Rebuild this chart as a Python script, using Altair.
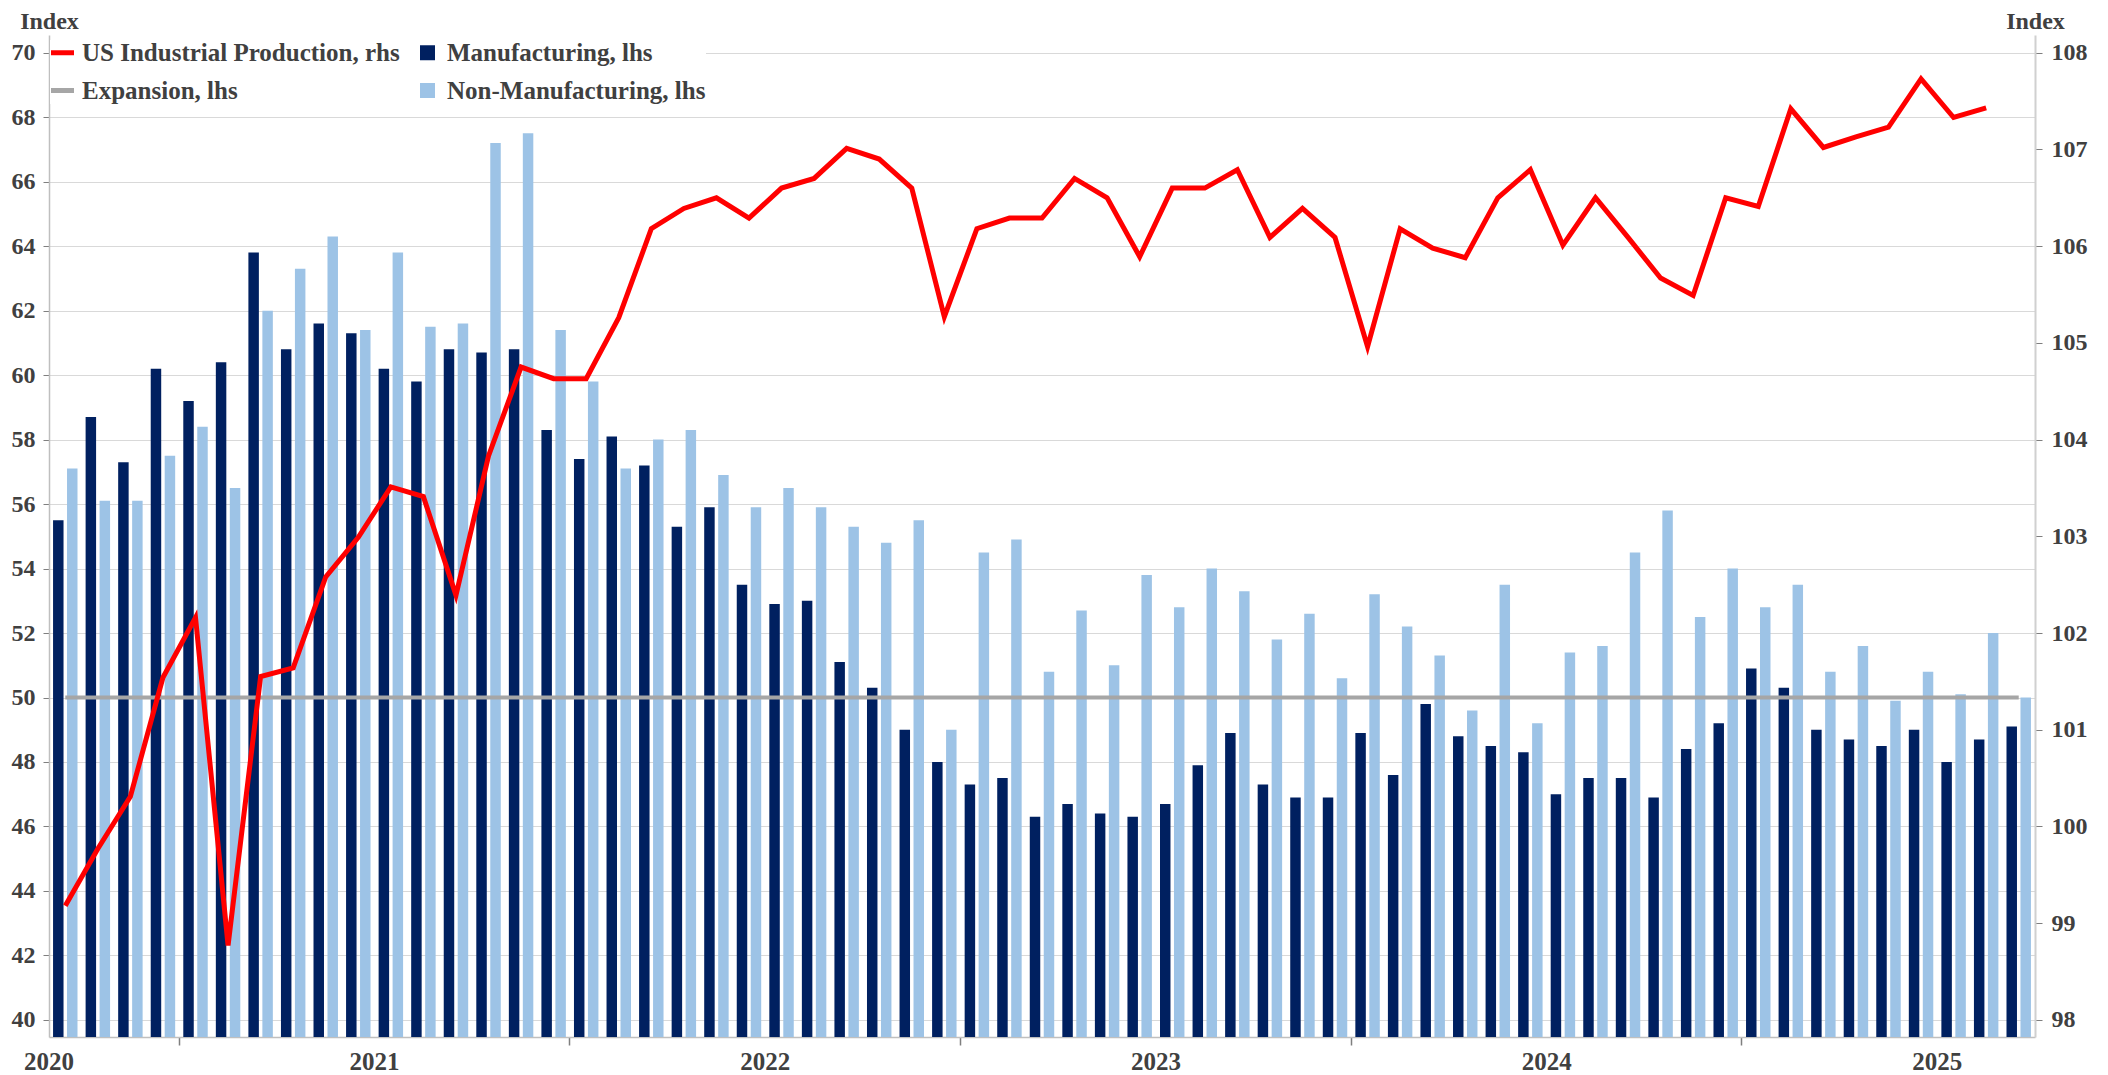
import altair as alt
import pandas as pd

# ---------------- data ----------------
MONTHS = [p.strftime('%Y-%m') for p in pd.period_range('2020-09', '2025-09', freq='M')]

MANUFACTURING = [55.5, 58.7, 57.3, 60.2, 59.2, 60.4, 63.8, 60.8, 61.6, 61.3,
                 60.2, 59.8, 60.8, 60.7, 60.8, 58.3, 57.4, 58.1, 57.2, 55.3,
                 55.9, 53.5, 52.9, 53.0, 51.1, 50.3, 49.0, 48.0, 47.3, 47.5,
                 46.3, 46.7, 46.4, 46.3, 46.7, 47.9, 48.9, 47.3, 46.9, 46.9,
                 48.9, 47.6, 49.8, 48.8, 48.5, 48.3, 47.0, 47.5, 47.5, 46.9,
                 48.4, 49.2, 50.9, 50.3, 49.0, 48.7, 48.5, 49.0, 48.0, 48.7,
                 49.1]

NON_MANUFACTURING = [57.1, 56.1, 56.1, 57.5, 58.4, 56.5, 62.0, 63.3, 64.3, 61.4,
                     63.8, 61.5, 61.6, 67.2, 67.5, 61.4, 59.8, 57.1, 58.0, 58.3,
                     56.9, 55.9, 56.5, 55.9, 55.3, 54.8, 55.5, 49.0, 54.5, 54.9,
                     50.8, 52.7, 51.0, 53.8, 52.8, 54.0, 53.3, 51.8, 52.6, 50.6,
                     53.2, 52.2, 51.3, 49.6, 53.5, 49.2, 51.4, 51.6, 54.5, 55.8,
                     52.5, 54.0, 52.8, 53.5, 50.8, 51.6, 49.9, 50.8, 50.1, 52.0,
                     50.0]

INDUSTRIAL_PRODUCTION = [99.18, 99.77, 100.31, 101.54, 102.16, 98.77, 101.55, 101.64, 102.58, 102.99,
                         103.51, 103.41, 102.39, 103.83, 104.75, 104.63, 104.63, 105.26, 106.18, 106.39,
                         106.50, 106.29, 106.60, 106.70, 107.01, 106.90, 106.60, 105.27, 106.18, 106.29,
                         106.29, 106.70, 106.50, 105.89, 106.60, 106.60, 106.79, 106.09, 106.39, 106.09,
                         104.96, 106.18, 105.98, 105.88, 106.50, 106.79, 106.01, 106.50, 106.09, 105.67,
                         105.49, 106.50, 106.41, 107.42, 107.02, 107.13, 107.23, 107.73, 107.33, 107.43]

EXPANSION_LEVEL = 50

SERIES = ['US Industrial Production, rhs', 'Manufacturing, lhs',
          'Expansion, lhs', 'Non-Manufacturing, lhs']
COLORS = ['#FF0000', '#002060', '#A6A6A6', '#9DC3E6']

YEAR_LABELS = ['2020', '2021', '2022', '2023', '2024', '2025']
YEAR_LABEL_AT = ['2020-09', '2021-07', '2022-07', '2023-07', '2024-07', '2025-07']
YEAR_TICKS_AT = ['2021-01', '2022-01', '2023-01', '2024-01', '2025-01']

LEFT_TICKS = list(range(40, 71, 2))
RIGHT_TICKS = list(range(98, 109))
LEFT_DOMAIN = [39.47, 70.55]
RIGHT_DOMAIN = [97.823, 108.183]

# ---------------- tables ----------------
bar_df = pd.concat([
    pd.DataFrame({'month': MONTHS, 'series': SERIES[1], 'value': MANUFACTURING}),
    pd.DataFrame({'month': MONTHS, 'series': SERIES[3], 'value': NON_MANUFACTURING}),
], ignore_index=True)
exp_df = pd.DataFrame({'month': MONTHS, 'series': SERIES[2], 'value': EXPANSION_LEVEL})
ip_df = pd.DataFrame({'month': MONTHS[:len(INDUSTRIAL_PRODUCTION)], 'series': SERIES[0],
                      'value': INDUSTRIAL_PRODUCTION})
year_df = pd.DataFrame({'month': YEAR_LABEL_AT, 'label': YEAR_LABELS})

# ---------------- style ----------------
FONT = 'Liberation Serif'
TEXT = '#404040'
W, H = 1986, 1002

x_scale = alt.Scale(type='band', domain=MONTHS, paddingInner=0, paddingOuter=0)
x_axis = alt.Axis(values=YEAR_TICKS_AT, bandPosition=0, labels=False, ticks=True,
                  tickSize=8, tickColor='#7F7F7F', tickWidth=1.5,
                  domainColor='#BFBFBF', domainWidth=1.5, grid=False, title=None)

left_axis = alt.Axis(values=LEFT_TICKS, grid=True, gridColor='#D9D9D9', gridWidth=1,
                     domainColor='#BFBFBF', domainWidth=1.5, tickColor='#7F7F7F',
                     tickSize=6, labelFont=FONT, labelFontSize=24, labelFontWeight='bold',
                     labelColor=TEXT, labelPadding=8,
                     title='Index', titleAngle=0, titleX=0, titleY=-7,
                     titleAlign='center', titleBaseline='alphabetic', titleFont=FONT,
                     titleFontSize=24, titleFontWeight='bold', titleColor=TEXT)
right_axis = alt.Axis(values=RIGHT_TICKS, orient='right', grid=False,
                      domainColor='#D0D0D0', domainWidth=2, tickColor='#7F7F7F',
                      tickSize=7, labelFont=FONT, labelFontSize=24, labelFontWeight='bold',
                      labelColor=TEXT, labelPadding=9,
                      title='Index', titleAngle=0, titleX=0, titleY=-7,
                      titleAlign='center', titleBaseline='alphabetic', titleFont=FONT,
                      titleFontSize=24, titleFontWeight='bold', titleColor=TEXT)

left_scale = alt.Scale(domain=LEFT_DOMAIN, nice=False, zero=False)
right_scale = alt.Scale(domain=RIGHT_DOMAIN, nice=False, zero=False)

is_line = "(datum.value === 'US Industrial Production, rhs' || datum.value === 'Expansion, lhs')"
legend = alt.Legend(
    title=None, orient='none', legendX=1, legendY=5, columns=2, direction='horizontal',
    columnPadding=15, rowPadding=12, labelFont=FONT, labelFontSize=25,
    labelFontWeight='bold', labelColor=TEXT,
    labelLimit=600, labelOffset=7, fillColor='white', padding=0,
    symbolType=alt.ExprRef(expr=f"{is_line} ? 'stroke' : 'square'"),
    symbolSize=alt.ExprRef(expr=f"{is_line} ? 529 : 225"),
    symbolStrokeWidth=alt.ExprRef(expr=f"{is_line} ? 5 : 0"),
    symbolStrokeColor=alt.ExprRef(expr="scale('color', datum.value)"),
    symbolFillColor=alt.ExprRef(expr="scale('color', datum.value)"),
    symbolOpacity=1,
)

color_enc = alt.Color('series:N', scale=alt.Scale(domain=SERIES, range=COLORS), legend=legend)
x_enc = alt.X('month:O', scale=x_scale, axis=x_axis)

bars = alt.Chart(bar_df).mark_bar().encode(
    x=x_enc,
    xOffset=alt.XOffset('series:N', scale=alt.Scale(domain=[SERIES[1], SERIES[3]],
                                                    paddingInner=0.25, paddingOuter=0.29)),
    y=alt.Y('value:Q', scale=left_scale, axis=left_axis),
    y2=alt.Y2(datum=LEFT_DOMAIN[0]),
    color=color_enc,
)

expansion = alt.Chart(exp_df).mark_line(strokeWidth=4).encode(
    x=x_enc,
    y=alt.Y('value:Q', scale=left_scale, axis=left_axis),
    color=color_enc,
)

years = alt.Chart(year_df).mark_text(font=FONT, fontSize=25, fontWeight='bold', color=TEXT,
                                     baseline='middle', align='center').encode(
    x=alt.X('month:O', bandPosition=0, scale=x_scale, axis=x_axis),
    y=alt.value(H + 25),
    text='label:N',
)

ip_line = alt.Chart(ip_df).mark_line(strokeWidth=5).encode(
    x=x_enc,
    y=alt.Y('value:Q', scale=right_scale, axis=right_axis),
    color=color_enc,
)

left = alt.layer(bars, expansion, years)
chart = alt.layer(left, ip_line).resolve_scale(y='independent').properties(
    width=W, height=H,
    padding={'left': 41, 'top': 27, 'right': 65, 'bottom': 38},
    autosize=alt.AutoSizeParams(type='none'),
).configure_view(stroke=None)

chart.save("out.html", embed_options={"renderer": "svg", "actions": False})
